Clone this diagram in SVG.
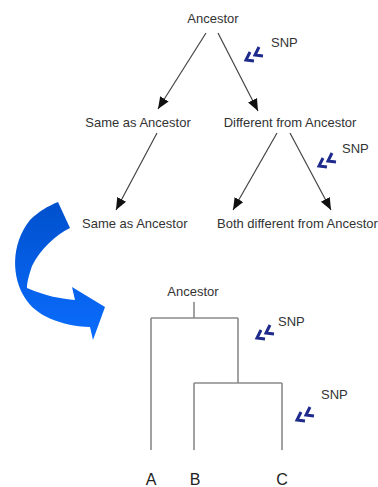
<svg xmlns="http://www.w3.org/2000/svg" width="378" height="487" viewBox="0 0 378 487">
<style>
.t{font-family:"Liberation Sans",Arial,sans-serif;font-size:13px;fill:#333;}
.lbl{font-family:"Liberation Sans",Arial,sans-serif;font-size:16px;fill:#222;text-anchor:middle;}
.arr{stroke:#444;stroke-width:1.2;fill:none;marker-end:url(#ah);}
.tree{stroke:#8a8a8a;stroke-width:1.6;fill:none;}
.chev{stroke:#1e2a8c;stroke-width:3;fill:none;stroke-linejoin:miter;}
</style>
<defs>
<marker id="ah" markerUnits="userSpaceOnUse" markerWidth="13" markerHeight="11" refX="12" refY="5" orient="auto">
<path d="M0,0 L12,5 L0,10 z" fill="#111"/>
</marker>
<g id="snp">
<polyline class="chev" points="4,-8 0,0 8,1"/>
<polyline class="chev" points="13,-13 9,-5 17,-4"/>
</g>
<linearGradient id="bg" x1="0" y1="0" x2="0" y2="1">
<stop offset="0" stop-color="#0050cc"/>
<stop offset="1" stop-color="#0a6dff"/>
</linearGradient>
</defs>
<rect width="378" height="487" fill="#fff"/>

<g id="top-ancestor"><text class="t" x="213" y="23" text-anchor="middle">Ancestor</text></g>
<g id="same1"><text class="t" x="138" y="127" text-anchor="middle">Same as Ancestor</text></g>
<g id="diff1"><text class="t" x="290" y="127" text-anchor="middle">Different from Ancestor</text></g>
<g id="same2"><text class="t" x="82" y="228">Same as Ancestor</text></g>
<g id="both"><text class="t" x="217" y="228">Both different from Ancestor</text></g>

<g id="connectors">
<line class="arr" x1="206" y1="33" x2="158" y2="109"/>
<line class="arr" x1="218" y1="33" x2="258" y2="111"/>
<line class="arr" x1="157" y1="133" x2="116" y2="210"/>
<line class="arr" x1="277" y1="133" x2="233" y2="210"/>
<line class="arr" x1="290" y1="133" x2="331" y2="210"/>
</g>

<g id="snp1"><use href="#snp" x="246" y="60"/><text class="t" x="271" y="47">SNP</text></g>
<g id="snp2"><use href="#snp" x="319" y="166"/><text class="t" x="342" y="153">SNP</text></g>

<g id="blue-arrow">
<path fill="url(#bg)" d="M58,202 L70,228 C55,235 40,250 32,266 C29,275 27,282 27,288 C45,296 62,299 75,300 L72,287 L105,307 L93,340 L90,327 C60,326 35,315 25,298 C12,278 10,245 30,220 C38,212 48,206 58,202 Z"/>
</g>

<g id="tree">
<text class="t" x="193" y="296" text-anchor="middle">Ancestor</text>
<path class="tree" d="M194,302 V318 M151,318 H238 M151,318 V450 M238,318 V383 M194,383 H282 M194,383 V450 M282,383 V450"/>
</g>
<g id="snp3"><use href="#snp" x="257" y="338"/><text class="t" x="278" y="326">SNP</text></g>
<g id="snp4"><use href="#snp" x="297" y="420"/><text class="t" x="321" y="399">SNP</text></g>
<g id="leafA"><text class="lbl" x="151" y="485">A</text></g>
<g id="leafB"><text class="lbl" x="195" y="485">B</text></g>
<g id="leafC"><text class="lbl" x="282" y="485">C</text></g>
</svg>
